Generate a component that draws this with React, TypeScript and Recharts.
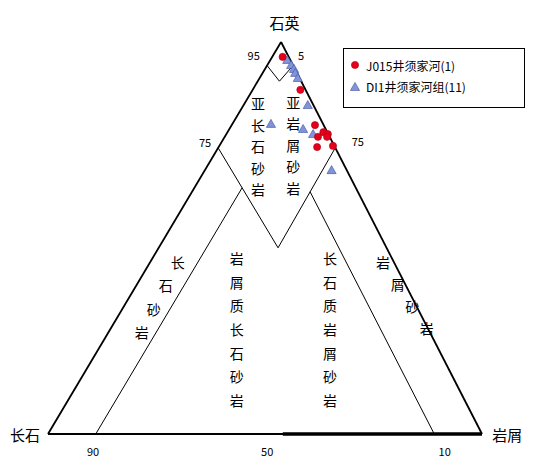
import React from "react";
import {
  ReferenceDot,
  ReferenceLine,
  Scatter,
  ScatterChart,
  XAxis,
  YAxis,
} from "recharts";

// sample compositions, % quartz / feldspar / rock fragments
const j015Quartz = [96.2, 87.8, 78.8, 77.0, 76.5, 75.8, 75.8, 73.2, 73.5];
const j015Feldspar = [1.4, 1.2, 2.0, 0.9, 0.1, 2.7, 0.6, 4.1, 0.3];
const j015Lithic = [2.4, 11.0, 19.2, 22.1, 23.4, 21.5, 23.6, 22.7, 26.2];

const di1Quartz = [95.4, 94.1, 93.1, 92.1, 90.8, 83.9, 79.1, 77.8, 76.5, 67.3];
const di1Feldspar = [0.7, 0.4, 0.2, 0.4, 0.4, 1.3, 12.0, 5.2, 3.5, 3.5];
const di1Lithic = [3.9, 5.5, 6.7, 7.5, 8.8, 14.8, 8.9, 17.0, 20.0, 29.2];

const seriesNames = ["J015井须家河(1)", "DI1井须家河组(11)"];

// field boundaries as [quartz, feldspar, rock fragments]
const outline = [[100, 0, 0], [0, 100, 0], [0, 0, 100], [100, 0, 0]];
const quartzArenite = [[94, 6, 0], [90, 5, 5], [94, 0, 6]];
const subField = [[73, 27, 0], [47.5, 25, 27.5], [73, 0, 27]];
const arkoseLine = [[0, 89, 11], [62.8, 26.2, 11]];
const litharLine = [[0, 11, 89], [61.8, 11, 27.2]];
const heavyBase = [[0, 45.9, 54.1], [0, 0, 100]];

const vertexNames = ["石英", "长石", "岩屑"];
const fieldNames = ["亚长石砂岩", "亚岩屑砂岩", "长石砂岩", "岩屑质长石砂岩", "长石质岩屑砂岩", "岩屑砂岩"];
const tickLabels = ["95", "5", "75", "75", "90", "50", "10"];

// layout (chart % coordinates)
const APEX_X = 53.7;
const W = 553;
const H = 458;
const FONT = "'Noto Sans CJK SC', 'DejaVu Sans', sans-serif";
const vertexPos = [[54.5, 105], [-5.3, -0.2], [105.8, -0.2]];
const fieldPos = [
  { x: 48.4, y: 84.4, dx: 0, step: 21.5 },
  { x: 56.5, y: 84.7, dx: 0, step: 21.5 },
  { x: 29.9, y: 43.9, dx: -12, step: 23.3 },
  { x: 43.5, y: 44.9, dx: 0, step: 23.7 },
  { x: 65.0, y: 44.9, dx: 0, step: 23.7 },
  { x: 77.2, y: 43.9, dx: 14.6, step: 22 },
];
const tickPos = [[47.4, 96.7], [58.3, 96.7], [36.2, 74.5], [71.4, 74.7], [10.4, -4.4], [50.5, -4.4], [91.4, -4.4]];

const toXY = (q: number, r: number) => ({ x: r + (APEX_X * q) / 100, y: q });

const j015 = j015Quartz.map((q, i) => ({ ...toXY(q, j015Lithic[i]), f: j015Feldspar[i] }));
const di1 = di1Quartz.map((q, i) => ({ ...toXY(q, di1Lithic[i]), f: di1Feldspar[i] }));

const RED = "#e5001c";
const BLUE = "#8094d6";

function Circle({ cx, cy }: any) {
  return <circle cx={cx} cy={cy} r={3.6} fill={RED} stroke="#b00012" strokeWidth={0.6} />;
}

function Tri({ cx, cy }: any) {
  const s = 4.6;
  return (
    <polygon
      points={`${cx},${cy - s} ${cx - s},${cy + s * 0.75} ${cx + s},${cy + s * 0.75}`}
      fill={BLUE}
      stroke="#3e50a2"
      strokeWidth={0.6}
    />
  );
}

function segments(pts: number[][], key: string, width: number) {
  const out = [];
  for (let i = 0; i < pts.length - 1; i++) {
    const a = toXY(pts[i][0], pts[i][2]);
    const b = toXY(pts[i + 1][0], pts[i + 1][2]);
    out.push(
      <ReferenceLine
        key={`${key}-${i}`}
        segment={[a, b]}
        stroke="#000"
        strokeWidth={width}
        ifOverflow="visible"
      />
    );
  }
  return out;
}

function textDot(key: string, x: number, y: number, render: (cx: number, cy: number) => React.ReactElement) {
  return (
    <ReferenceDot
      key={key}
      x={x}
      y={y}
      r={1}
      ifOverflow="visible"
      shape={(p: any) => render(p.cx, p.cy)}
    />
  );
}

export default function App() {
  return (
    <div style={{ position: "absolute", left: 0, top: 0, width: W, height: H, background: "#fff" }}>
      <ScatterChart width={W} height={H} margin={{ top: 42, right: 71, bottom: 24, left: 48 }}>
        <XAxis type="number" dataKey="x" domain={[0, 100]} hide allowDataOverflow />
        <YAxis type="number" dataKey="y" domain={[0, 100]} hide allowDataOverflow />
        {segments(outline, "outline", 1.8)}
        {segments(quartzArenite, "qa", 1)}
        {segments(subField, "sub", 1)}
        {segments(arkoseLine, "ark", 1)}
        {segments(litharLine, "lit", 1)}
        {segments(heavyBase, "base", 3.5)}
        {vertexNames.map((t, i) =>
          textDot(`v${i}`, vertexPos[i][0], vertexPos[i][1], (cx, cy) => (
            <text x={cx} y={cy} textAnchor="middle" dominantBaseline="central" fontSize={15} fontFamily={FONT} fill="#000">
              {t}
            </text>
          ))
        )}
        {fieldNames.map((t, i) =>
          textDot(`f${i}`, fieldPos[i].x, fieldPos[i].y, (cx, cy) => (
            <g>
              {Array.from(t).map((c, j) => (
                <text
                  key={j}
                  x={cx + j * fieldPos[i].dx}
                  y={cy + j * fieldPos[i].step}
                  textAnchor="middle"
                  dominantBaseline="central"
                  fontSize={14}
                  fontFamily={FONT}
                  fill="#000"
                >
                  {c}
                </text>
              ))}
            </g>
          ))
        )}
        {tickLabels.map((t, i) =>
          textDot(`t${i}`, tickPos[i][0], tickPos[i][1], (cx, cy) => (
            <text x={cx} y={cy} textAnchor="middle" dominantBaseline="central" fontSize={11} fontFamily={FONT} fill="#000">
              {t}
            </text>
          ))
        )}
        <Scatter name={seriesNames[1]} data={di1} shape={<Tri />} isAnimationActive={false} />
        <Scatter name={seriesNames[0]} data={j015} shape={<Circle />} isAnimationActive={false} />
      </ScatterChart>
      <div
        style={{
          position: "absolute",
          left: 343,
          top: 48,
          width: 182,
          height: 60,
          border: "1.5px solid #000",
          boxSizing: "border-box",
          fontFamily: FONT,
          fontSize: 12,
          color: "#000",
          background: "#fff",
        }}
      >
        {seriesNames.map((n, i) => (
          <div
            key={n}
            style={{ position: "absolute", left: 4, top: i === 0 ? 7 : 28, display: "flex", alignItems: "center", height: 18 }}
          >
            <svg width={14} height={14} style={{ marginRight: 4 }}>
              {i === 0 ? <Circle cx={7} cy={7} /> : <Tri cx={7} cy={8} />}
            </svg>
            <span>{n}</span>
          </div>
        ))}
      </div>
    </div>
  );
}
